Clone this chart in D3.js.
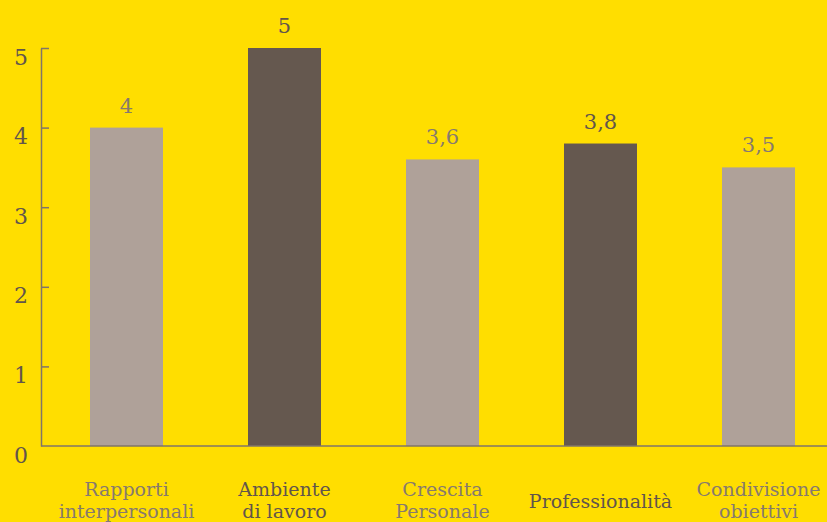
<!DOCTYPE html>
<meta charset="utf-8">
<style>
body { margin: 0; background: #ffde00; }
#thevis { background-color: #ffde00; display: block; }
text { font-family: "DejaVu Serif", serif; }
</style>
<svg id="thevis" width="827" height="522"></svg>
<script src="https://cdn.jsdelivr.net/npm/d3@7/dist/d3.min.js"></script>
<script>

// categories, values and which bars are the dark ones
var categories = ["Rapporti interpersonali", "Ambiente di lavoro", "Crescita Personale", "Professionalità", "Condivisione obiettivi"];
var labelLines = [["Rapporti", "interpersonali"], ["Ambiente", "di lavoro"], ["Crescita", "Personale"], ["Professionalità"], ["Condivisione", "obiettivi"]];
var values = [4, 5, 3.6, 3.8, 3.5];
var dark = [false, true, false, true, false];
var yTicks = [0, 1, 2, 3, 4, 5];

var lightBar = "#afa199", darkBar = "#65584f";
var lightText = "#877a6e", darkText = "#62554c";
var axisColor = "#807569";

var svg = d3.select("svg"),
	width = +svg.attr("width"),
	height = +svg.attr("height");

var x = d3.scaleBand()
	.domain(categories)
	.range([47.5, 837.5])
	.paddingInner(0.538)
	.paddingOuter(0.269);

var y = d3.scaleLinear()
	.domain([0, 5])
	.range([446, 48]);

var data = categories.map(function(c, i) {
	return {cat: c, value: values[i], dark: dark[i], lines: labelLines[i]};
});

// bars
svg.append("g")
	.selectAll("rect")
	.data(data)
	.enter().append("rect")
		.attr("x", function(d) { return x(d.cat); })
		.attr("y", function(d) { return y(d.value); })
		.attr("width", x.bandwidth())
		.attr("height", function(d) { return y(0) - y(d.value); })
		.attr("fill", function(d) { return d.dark ? darkBar : lightBar; });

// value labels
svg.append("g")
	.selectAll("text")
	.data(data)
	.enter().append("text")
		.attr("x", function(d) { return x(d.cat) + x.bandwidth() / 2; })
		.attr("y", function(d) { return y(d.value) - 15; })
		.attr("text-anchor", "middle")
		.attr("font-size", "21px")
		.attr("fill", function(d) { return d.dark ? darkText : lightText; })
		.text(function(d) { return String(d.value).replace(".", ","); });

// left axis, ticks pointing into the plot
var yAxis = svg.append("g")
	.attr("transform", "translate(41,0)")
	.call(d3.axisLeft(y).tickValues(yTicks).tickSize(-8).tickSizeOuter(0).tickFormat(d3.format("d")));

yAxis.select(".domain").attr("stroke", axisColor).attr("stroke-width", 1.5);
yAxis.selectAll(".tick line").attr("stroke", axisColor).attr("stroke-width", 1.5);
yAxis.selectAll(".tick text")
	.attr("x", -20)
	.attr("dy", "16px")
	.attr("text-anchor", "middle")
	.attr("font-size", "22px")
	.attr("font-family", "DejaVu Serif, serif")
	.attr("fill", darkText);
// no tick line at zero, the baseline covers it
yAxis.selectAll(".tick").filter(function(d) { return d === 0; }).select("line").remove();

// baseline
svg.append("line")
	.attr("x1", 41)
	.attr("x2", width)
	.attr("y1", y(0))
	.attr("y2", y(0))
	.attr("stroke", axisColor)
	.attr("stroke-width", 1.5);

// category labels under the axis
var cat = svg.append("g")
	.selectAll("text")
	.data(data)
	.enter().append("text")
		.attr("text-anchor", "middle")
		.attr("font-size", "19px")
		.attr("fill", function(d) { return d.dark ? darkText : lightText; })
		.attr("transform", function(d) {
			var cy = d.lines.length > 1 ? 496 : 508;
			return "translate(" + (x(d.cat) + x.bandwidth() / 2) + "," + cy + ")";
		});

cat.selectAll("tspan")
	.data(function(d) { return d.lines; })
	.enter().append("tspan")
		.attr("x", 0)
		.attr("y", function(d, i) { return i * 22; })
		.text(function(d) { return d; });

</script>
